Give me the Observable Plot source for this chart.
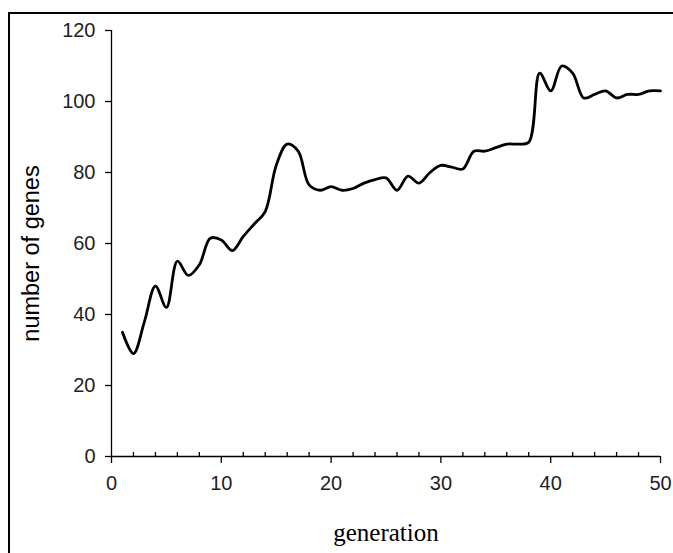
<!DOCTYPE html>
<html>
<head>
<meta charset="utf-8">
<script src="https://cdn.jsdelivr.net/npm/d3@7"></script>
<script src="https://cdn.jsdelivr.net/npm/@observablehq/plot@0.6"></script>
<style>
  html, body { margin: 0; padding: 0; background: #fff; }
  #wrap { position: relative; width: 673px; height: 553px; overflow: hidden; }
  #box { position: absolute; left: 8px; top: 12px; width: 700px; height: 600px;
         border-top: 2px solid #000; border-left: 2px solid #000; }
  #chart { position: absolute; left: 0; top: 0; }
</style>
</head>
<body>
<div id="wrap"><div id="box"></div><div id="chart"></div></div>
<script>
const generations = [1,2,3,4,5,6,7,8,9,10,11,12,13,14,15,16,17,18,19,20,21,22,23,24,25,26,27,28,29,30,31,32,33,34,35,36,37,38,39,40,41,42,43,44,45,46,47,48,49,50];
const numberOfGenes = [35,29,38,48,42,55,51,54,61.5,61,58,62,65.5,69,82,88,86,76.5,75,76,75,75.5,77,78,78.5,75,79,77,80,82,81.5,81,86,86,87,88,88,88.5,108,103,110,108,101,102,103,101,102,102,103,103];
const xTicks = [0,10,20,30,40,50];
const xMinorTicks = [2,4,6,8,12,14,16,18,22,24,26,28,32,34,36,38,42,44,46,48];
const yTicks = [0,20,40,60,80,100,120];
const xLabel = "generation";
const yLabel = "number of genes";

const rows = generations.map((g, i) => ({generation: g, genes: numberOfGenes[i]}));

const chart = Plot.plot({
  width: 673,
  height: 553,
  marginLeft: 111,
  marginRight: 13,
  marginTop: 30,
  marginBottom: 97,
  x: {domain: [0, 50]},
  y: {domain: [0, 120]},
  style: {background: "transparent", color: "#000", fontFamily: "'Liberation Sans', Arial, sans-serif"},
  marks: [
    Plot.axisY(yTicks, {tickSize: 6, tickPadding: 10, fontSize: 20, strokeWidth: 1.3, label: null, fill: "#222"}),
    Plot.axisX(xTicks, {tickSize: 7, tickPadding: 12, fontSize: 20, strokeWidth: 1.3, label: null, fill: "#222",
      fontFamily: "'Liberation Sans Narrow', 'Arial Narrow', 'Liberation Sans', sans-serif"}),
    Plot.axisX(xMinorTicks, {tickSize: 4, dy: -4, tickFormat: () => "", strokeWidth: 1.3, label: null}),
    Plot.ruleX([0], {strokeWidth: 1.3}),
    Plot.ruleY([0], {strokeWidth: 1.3}),
    Plot.line(rows, {x: "generation", y: "genes", curve: "catmull-rom", stroke: "#000", strokeWidth: 2.8}),
    Plot.text([yLabel], {frameAnchor: "left", textAnchor: "middle", dx: -80, dy: 10, rotate: -90, fontSize: 23.5, fill: "#000"}),
    Plot.text([xLabel], {frameAnchor: "bottom", textAnchor: "middle", lineAnchor: "middle", dy: 76, fontSize: 25, fontFamily: "'Liberation Serif', 'Times New Roman', serif", fill: "#000"})
  ]
});
document.getElementById("chart").appendChild(chart);
</script>
</body>
</html>
